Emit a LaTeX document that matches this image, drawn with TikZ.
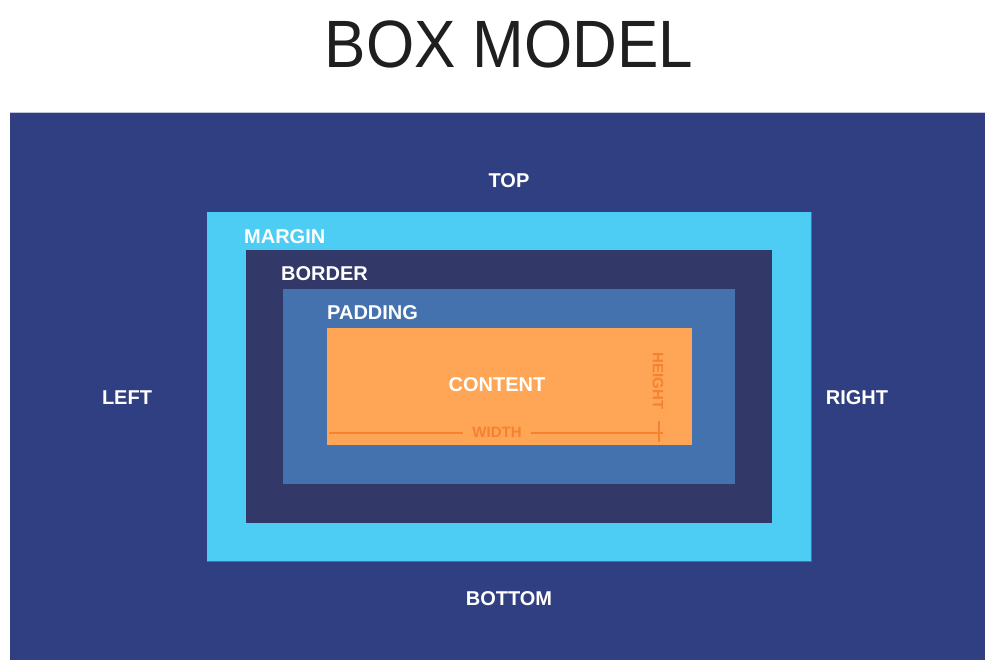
\documentclass[tikz,border=0pt]{standalone}
\usepackage{fontspec}
\setmainfont{Liberation Sans}
\definecolor{outerc}{HTML}{303F82}
\definecolor{marginc}{HTML}{4DCDF4}
\definecolor{borderc}{HTML}{323868}
\definecolor{paddingc}{HTML}{4472AE}
\definecolor{contentc}{HTML}{FFA556}
\definecolor{dimc}{HTML}{F5822F}
\begin{document}
\begin{tikzpicture}[x=1pt,y=-1pt,
  lbl/.style={text=white,font=\bfseries\fontsize{20}{20}\selectfont,inner sep=0pt},
  dimlbl/.style={text=dimc,font=\bfseries\fontsize{15}{15}\selectfont,inner sep=0pt},
  dimline/.style={draw=dimc,line width=1.2pt}]
\useasboundingbox (0,0) rectangle (994,670);
\fill[white] (0,0) rectangle (994,670);
% title
\node[font=\fontsize{62}{62}\selectfont,text=black!88,inner sep=0pt,yscale=1.08] (title) at (509,44) {BOX MODEL};
% boxes
\fill[outerc] (10,112) rectangle (985,660);
\draw[white!70!outerc,line width=0.8pt] (10,112.4) -- (985,112.4);
\fill[marginc] (207,212) rectangle (811,561);
\draw[paddingc,line width=0.8pt] (207,561) -- (811,561) -- (811,212);
\fill[borderc] (246,250) rectangle (772,523);
\fill[paddingc] (283,289) rectangle (735,484);
\fill[contentc] (327,328) rectangle (692,445);
% side labels
\node[lbl] (top) at (509,181) {TOP};
\node[lbl] (bottom) at (509,599) {BOTTOM};
\node[lbl] (left) at (127,398) {LEFT};
\node[lbl] (right) at (857,398) {RIGHT};
\node[lbl,anchor=west] (margin) at (244,237) {MARGIN};
\node[lbl,anchor=west] (border) at (281,274) {BORDER};
\node[lbl,anchor=west] (padding) at (327,313) {PADDING};
\node[lbl] (content) at (497,385) {CONTENT};
% dimensions
\node[dimlbl] (width) at (497,432) {WIDTH};
\node[dimlbl,rotate=-90] (height) at (658,381) {HEIGHT};
\coordinate (wl) at (329,433);
\coordinate (wr) at (663,433);
\coordinate (tt) at (659,421);
\coordinate (tb) at (659,442);
\draw[dimline] (wl) -- ([xshift=-9pt]width.west |- wl);
\draw[dimline] ([xshift=9pt]width.east |- wr) -- (wr);
\draw[dimline] (tt) -- (tb);
\end{tikzpicture}
\end{document}
